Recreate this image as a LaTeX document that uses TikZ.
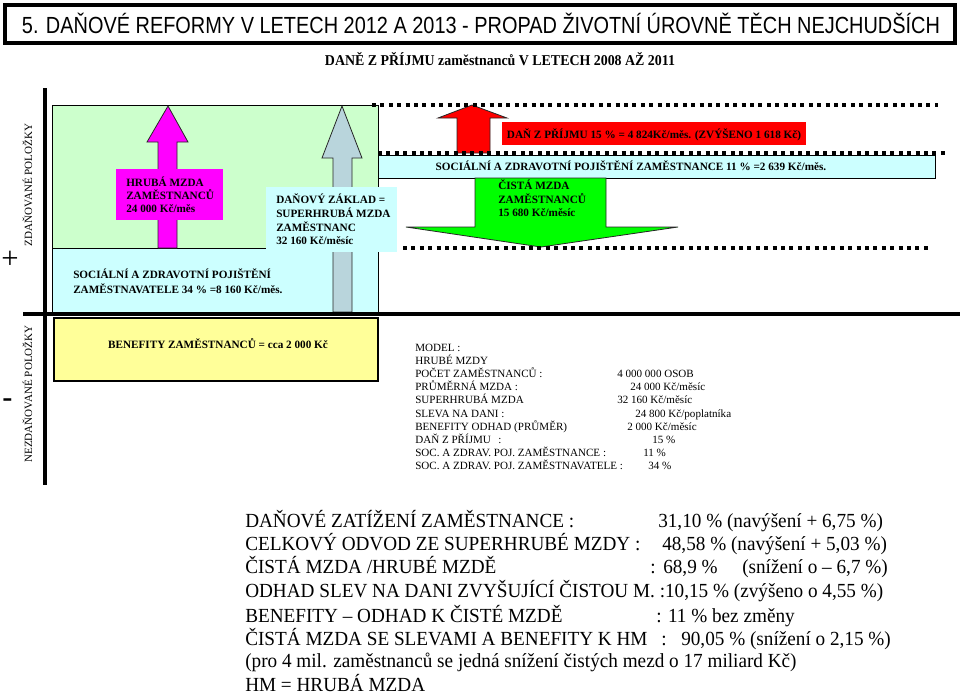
\documentclass[tikz,border=0pt]{standalone}
\usepackage{fontspec}
\usepackage{graphicx}
\setmainfont{Liberation Serif}
\newfontfamily\titlesans{Liberation Sans}
\newfontfamily\bodyserif[FakeStretch=0.96]{Liberation Serif}
\definecolor{lgreen}{HTML}{CCFFCC}
\definecolor{lcyan}{HTML}{CCFFFF}
\definecolor{lyellow}{HTML}{FFFF99}
\definecolor{steel}{HTML}{B9D5DC}
\definecolor{magen}{HTML}{FF00FF}
\definecolor{brgreen}{HTML}{00FF00}
\definecolor{brred}{HTML}{FF0000}
\begin{document}
\begin{tikzpicture}[x=0.75pt,y=-0.75pt,
  lbl/.style={font=\bfseries\fontsize{8.4pt}{10pt}\selectfont,inner sep=0pt,anchor=base west},
  lblc/.style={lbl,anchor=base},
  mdl/.style={font=\fontsize{8.3pt}{10pt}\selectfont,inner sep=0pt,anchor=base west},
  big/.style={font=\bodyserif\fontsize{15pt}{18pt}\selectfont,inner sep=0pt,anchor=base west},
  axisline/.style={line width=3pt},
  dotline/.style={line width=3pt,dash pattern=on 3pt off 3.3pt},
  thinbox/.style={draw=black,line width=0.75pt},
  arrowshape/.style={draw=black!85,line width=0.6pt}
]
\fill[white] (0,0) rectangle (960,694);
\useasboundingbox (0,0) rectangle (960,694);

% title
\draw[line width=3.3pt] (5,5) rectangle (955,43);
\node[inner sep=0pt,anchor=base] (title) at (481,33) {\titlesans\fontsize{17.5pt}{20pt}\selectfont\resizebox{688.5pt}{\height}{5. DAŇOVÉ REFORMY V LETECH 2012 A 2013 - PROPAD ŽIVOTNÍ ÚROVNĚ TĚCH NEJCHUDŠÍCH}};
\node[inner sep=0pt,anchor=base] (subtitle) at (500,65) {\bfseries\fontsize{11.25pt}{13pt}\selectfont\resizebox{262.5pt}{\height}{DANĚ Z PŘÍJMU zaměstnanců V LETECH 2008 AŽ 2011}};

% left boxes
\filldraw[fill=lgreen,thinbox] (52,105) rectangle (378,248);
\filldraw[fill=lcyan,thinbox] (52,248) rectangle (378,312);
% magenta arrow
\filldraw[fill=magen,arrowshape] (158,248) -- (158,142) -- (147,142) -- (168,106) -- (188,142) -- (177,142) -- (177,248) -- cycle;
% steel arrow
\filldraw[fill=steel,arrowshape] (333,312) -- (333,158) -- (322,158) -- (342,106) -- (362,158) -- (352,158) -- (352,312) -- cycle;
\fill[magen] (116,169) rectangle (223,220);
\fill[lcyan] (266,187) rectangle (397,252);

% right side
\filldraw[fill=lcyan,thinbox] (378,155) rectangle (935,178);
\filldraw[fill=brred,arrowshape] (457,153) -- (457,118) -- (438,118) -- (472,105) -- (507,118) -- (490,118) -- (490,153) -- cycle;
\fill[brred] (502,122) rectangle (806,145);
\filldraw[fill=brgreen,arrowshape] (475,178) -- (475,227) -- (406,227) -- (541,247) -- (678,227) -- (606,227) -- (606,178) -- cycle;
\draw[dotline] (372,105) -- (938,105);
\draw[dotline] (378,153) -- (945,153);
\draw[dotline] (403,248) -- (930,248);

% yellow box
\filldraw[fill=lyellow,draw=black,line width=1pt] (54,318) rectangle (378,381);

% axes
\draw[axisline] (45,88) -- (45,485);
\draw[axisline] (23,314) -- (960,314);

% axis labels
\node[mdl,anchor=center,rotate=90] (zdan) at (27.5,185) {ZDAŇOVANÉ POLOŽKY};
\node[mdl,anchor=center,rotate=90] (nezdan) at (27.5,394) {NEZDAŇOVANÉ POLOŽKY};
\node[inner sep=0pt,font=\fontsize{23pt}{25pt}\selectfont] (plus) at (10,260) {+};
\node[inner sep=0pt,anchor=base,font=\titlesans\fontsize{24pt}{26pt}\selectfont] (minus) at (7.5,408) {-};

% left labels
\node[lbl] (e1) at (73,278) {SOCIÁLNÍ A ZDRAVOTNÍ POJIŠTĚNÍ};
\node[lbl] (e2) at (73,293) {ZAMĚSTNAVATELE 34 \% =8 160 Kč/měs.};
\node[lbl] (h1) at (126,186) {HRUBÁ MZDA};
\node[lbl] (h2) at (126,199) {ZAMĚSTNANCŮ};
\node[lbl] (h3) at (126,212) {24 000 Kč/měs};
\node[lbl] (d1) at (276,203) {DAŇOVÝ ZÁKLAD =};
\node[lbl] (d2) at (276,217) {SUPERHRUBÁ MZDA};
\node[lbl] (d3) at (276,231) {ZAMĚSTNANC};
\node[lbl] (d4) at (276,244) {32 160 Kč/měsíc};
\node[lblc] (ben) at (218,348) {BENEFITY ZAMĚSTNANCŮ = cca 2 000 Kč};

% right labels
\node[lblc] (tax) at (654,138) {DAŇ Z PŘÍJMU 15 \% = 4 824Kč/měs. (ZVÝŠENO 1 618 Kč)};
\node[lblc] (soc) at (631,170) {SOCIÁLNÍ A ZDRAVOTNÍ POJIŠTĚNÍ ZAMĚSTNANCE 11 \% =2 639 Kč/měs.};
\node[lbl] (c1) at (498,189) {ČISTÁ MZDA};
\node[lbl] (c2) at (498,203) {ZAMĚSTNANCŮ};
\node[lbl] (c3) at (498,216) {15 680 Kč/měsíc};

% model
\node[mdl] (m0) at (415,351) {MODEL :};
\node[mdl] (m1) at (415,364.2) {HRUBÉ MZDY};
\node[mdl] (m2) at (415,377.4) {POČET ZAMĚSTNANCŮ :};
\node[mdl] (m3) at (415,390.6) {PRŮMĚRNÁ MZDA :};
\node[mdl] (m4) at (415,403.8) {SUPERHRUBÁ MZDA};
\node[mdl] (m5) at (415,417) {SLEVA NA DANI :};
\node[mdl] (m6) at (415,430.2) {BENEFITY ODHAD (PRŮMĚR)};
\node[mdl] (m7) at (415,443.4) {DAŇ Z PŘÍJMU};
\node[mdl] (m7c) at (498,443.4) {:};
\node[mdl] (m8) at (415,456.6) {SOC. A ZDRAV. POJ. ZAMĚSTNANCE :};
\node[mdl] (m9) at (415,469.8) {SOC. A ZDRAV. POJ. ZAMĚSTNAVATELE :};
\node[mdl] (v2) at (617,377.4) {4 000 000 OSOB};
\node[mdl] (v3) at (630,390.6) {24 000 Kč/měsíc};
\node[mdl] (v4) at (617,403.8) {32 160 Kč/měsíc};
\node[mdl] (v5) at (635,417) {24 800 Kč/poplatníka};
\node[mdl] (v6) at (627,430.2) {2 000 Kč/měsíc};
\node[mdl] (v7) at (652,443.4) {15 \%};
\node[mdl] (v8) at (643,456.6) {11 \%};
\node[mdl] (v9) at (648,469.8) {34 \%};

% bottom summary
\node[big] (s1) at (245,527) {DAŇOVÉ ZATÍŽENÍ ZAMĚSTNANCE :};
\node[big] (s1v) at (658,527) {31,10 \% (navýšení + 6,75 \%)};
\node[big] (s2) at (245,550) {CELKOVÝ ODVOD ZE SUPERHRUBÉ MZDY :};
\node[big] (s2v) at (662,550) {48,58 \% (navýšení + 5,03 \%)};
\node[big] (s3) at (245,573) {ČISTÁ MZDA /HRUBÉ MZDĚ};
\node[big] (s3c) at (650,573) {:};
\node[big] (s3v) at (663,573) {68,9 \%};
\node[big] (s3w) at (742,573) {(snížení o – 6,7 \%)};
\node[big] (s4) at (245,597) {ODHAD SLEV NA DANI ZVYŠUJÍCÍ ČISTOU M. :10,15 \% (zvýšeno o 4,55 \%)};
\node[big] (s5) at (245,622) {BENEFITY – ODHAD K ČISTÉ MZDĚ};
\node[big] (s5v) at (656,622) {: 11 \% bez změny};
\node[big] (s6) at (245,645) {ČISTÁ MZDA SE SLEVAMI A BENEFITY K HM};
\node[big] (s6c) at (661,645) {:};
\node[big] (s6v) at (681,645) {90,05 \% (snížení o 2,15 \%)};
\node[big] (s7) at (245,667) {(pro 4 mil. zaměstnanců se jedná snížení čistých mezd o 17 miliard Kč)};
\node[big] (s8) at (245,691) {HM = HRUBÁ MZDA};
\end{tikzpicture}
\end{document}
